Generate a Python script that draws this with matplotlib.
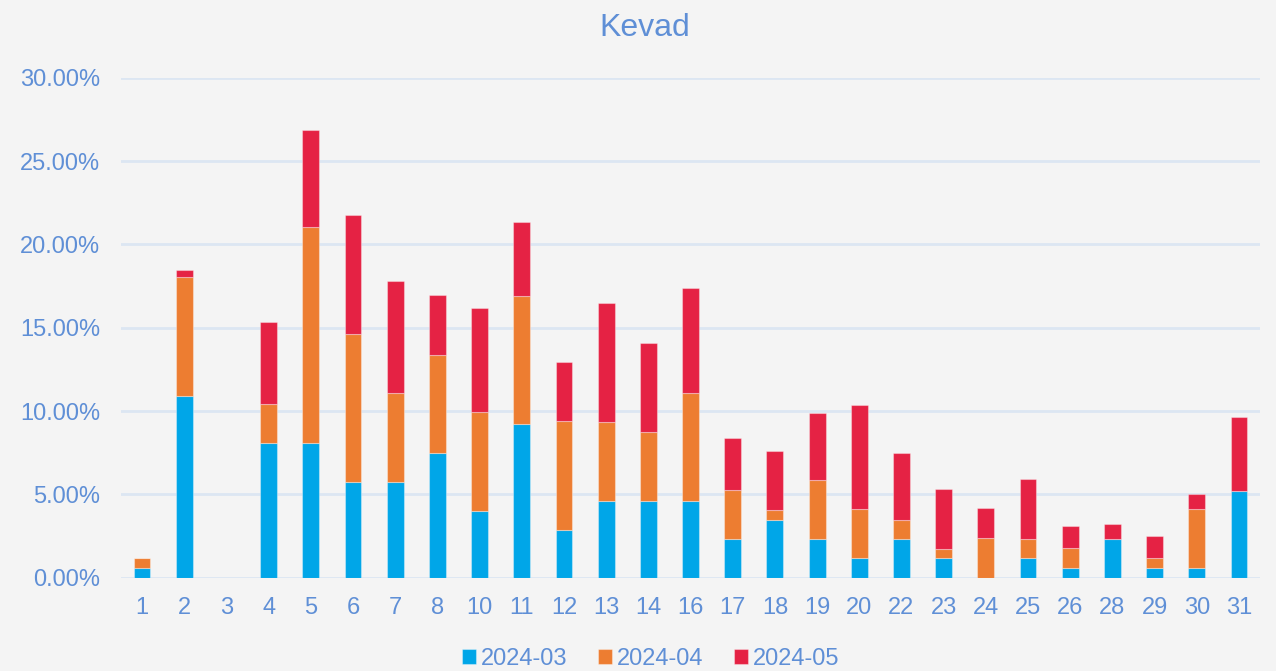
import matplotlib.pyplot as plt
import numpy as np
from matplotlib.ticker import PercentFormatter

days = ["1", "2", "3", "4", "5", "6", "7", "8", "10", "11", "12", "13", "14", "16",
        "17", "18", "19", "20", "22", "23", "24", "25", "26", "28", "29", "30", "31"]

# values in percent
mar = [0.57, 10.92, 0, 8.05, 8.05, 5.75, 5.75, 7.47, 4.02, 9.20, 2.87, 4.60, 4.60, 4.60,
       2.30, 3.45, 2.30, 1.15, 2.30, 1.15, 0, 1.15, 0.57, 2.30, 0.57, 0.57, 5.17]
apr = [0.59, 7.10, 0, 2.37, 13.02, 8.88, 5.33, 5.92, 5.92, 7.69, 6.51, 4.73, 4.14, 6.51,
       2.96, 0.59, 3.55, 2.96, 1.18, 0.59, 2.37, 1.18, 1.18, 0, 0.59, 3.55, 0]
may = [0, 0.45, 0, 4.91, 5.80, 7.14, 6.70, 3.57, 6.25, 4.46, 3.57, 7.14, 5.36, 6.25,
       3.13, 3.57, 4.02, 6.25, 4.02, 3.57, 1.79, 3.57, 1.34, 0.89, 1.34, 0.89, 4.46]
series = ["2024-03", "2024-04", "2024-05"]
colors = ["#00A6E8", "#ED7D31", "#E52244"]

bg = "#F4F4F4"
txt = "#5F8FD6"
plt.rcParams["font.family"] = ["Liberation Sans", "DejaVu Sans"]

fig = plt.figure(figsize=(12.76, 6.71), dpi=100, facecolor=bg)
ax = fig.add_axes([0.0948, 0.1393, 0.8927, 0.7445], facecolor=bg)

x = np.arange(len(days))
bottom = np.zeros(len(days))
for name, vals, c in zip(series, [mar, apr, may], colors):
    vals = np.array(vals)
    ax.bar(x, vals, 0.4, bottom=bottom, color=c, label=name,
           edgecolor=(1, 1, 1, 0.35), linewidth=0.8, zorder=3)
    bottom += vals

ax.set_xlim(-0.5, len(days) - 0.5)
ax.set_ylim(0, 30)
ax.set_yticks(np.arange(0, 31, 5))
ax.yaxis.set_major_formatter(PercentFormatter(decimals=2))
ax.set_xticks(x)
ax.set_xticklabels(days)
ax.grid(axis="y", color="#DCE6F2", linewidth=2, zorder=0)
for s in ax.spines.values():
    s.set_visible(False)
ax.tick_params(length=0, labelsize=17, labelcolor=txt)
ax.tick_params(axis="x", pad=14)
ax.tick_params(axis="y", pad=15)

fig.suptitle("Kevad", x=0.5055, y=0.958, va="center", fontsize=23, color=txt)

leg = fig.legend(loc="lower center", bbox_to_anchor=(0.51, -0.03), ncol=3,
                 frameon=False, fontsize=17, handlelength=0.6, handleheight=0.6,
                 handletextpad=0.2, columnspacing=1.3)
for t in leg.get_texts():
    t.set_color(txt)

fig.savefig("out.png", dpi=100, facecolor=bg)
